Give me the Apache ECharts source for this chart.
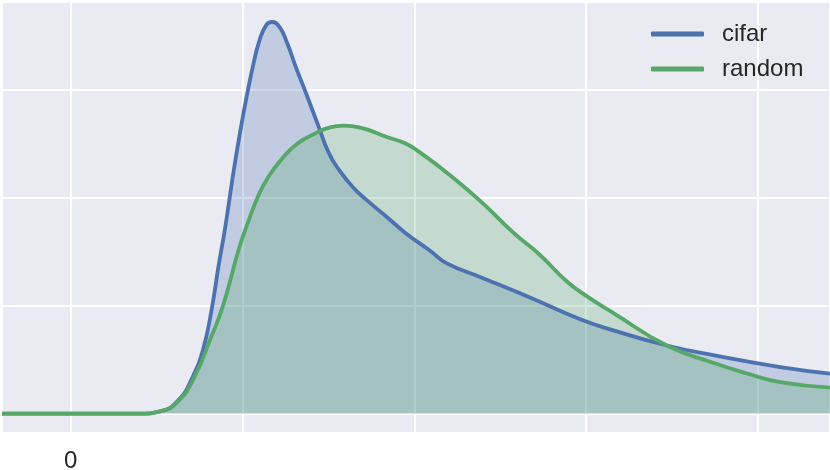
<!DOCTYPE html>
<html>
<head>
<meta charset="utf-8">
<script src="https://cdn.jsdelivr.net/npm/echarts@6/dist/echarts.min.js"></script>
<style>
  html, body { margin: 0; padding: 0; background: #fff; }
  #chart { width: 830px; height: 470px; }
</style>
</head>
<body>
<div id="chart"></div>
<script>
// density curves (x, y in grid units)
var cifarX = [-0.40, 0.17, 0.40, 0.52, 0.63, 0.71, 0.77, 0.82, 0.86, 0.90, 0.95, 0.99, 1.02, 1.06, 1.10, 1.14, 1.17, 1.215, 1.26, 1.31, 1.37, 1.44, 1.50, 1.56, 1.64, 1.72, 1.84, 1.95, 2.09, 2.19, 2.39, 2.68, 2.97, 3.16, 3.47, 3.74, 4.13, 4.42];
var cifarY = [0, 0, 0, 0.02, 0.13, 0.34, 0.59, 0.96, 1.36, 1.73, 2.26, 2.64, 2.90, 3.21, 3.46, 3.60, 3.625, 3.58, 3.43, 3.21, 2.965, 2.67, 2.42, 2.26, 2.10, 1.98, 1.82, 1.67, 1.51, 1.39, 1.26, 1.07, 0.87, 0.77, 0.63, 0.54, 0.43, 0.37];

var randomX = [-0.40, 0.17, 0.40, 0.52, 0.63, 0.73, 0.81, 0.885, 0.98, 1.03, 1.09, 1.15, 1.23, 1.32, 1.42, 1.51, 1.59, 1.68, 1.84, 1.95, 2.03, 2.19, 2.39, 2.58, 2.73, 2.89, 3.01, 3.16, 3.47, 3.74, 3.94, 4.13, 4.42];
var randomY = [0, 0, 0, 0.02, 0.12, 0.37, 0.68, 0.99, 1.53, 1.76, 2.01, 2.19, 2.36, 2.50, 2.59, 2.65, 2.665, 2.65, 2.56, 2.50, 2.42, 2.23, 1.96, 1.67, 1.47, 1.22, 1.08, 0.93, 0.63, 0.47, 0.37, 0.29, 0.24];

var seriesNames = ["cifar", "random"];
var seriesColors = ["#4C72B0", "#55A868"];

function pairs(xs, ys) {
  return xs.map(function (x, i) { return [x, ys[i]]; });
}

var chart = echarts.init(document.getElementById("chart"));
var option = {
  animation: false,
  color: seriesColors,
  textStyle: { fontFamily: "Liberation Sans, Arial, sans-serif" },
  grid: {
    left: 2, top: 2, right: 0, bottom: 37,
    outerBoundsMode: "none",
    show: true,
    backgroundColor: "#EAEAF2",
    borderWidth: 0
  },
  legend: {
    orient: "vertical",
    left: 646,
    top: 17,
    itemWidth: 53,
    itemHeight: 5,
    itemGap: 11,
    icon: "roundRect",
    data: seriesNames,
    textStyle: {
      fontSize: 24,
      color: "#262626",
      padding: [0, 0, 0, 13]
    }
  },
  xAxis: {
    type: "value",
    min: -0.4,
    max: 4.42,
    splitNumber: 5,
    axisLine: { show: false },
    axisTick: { show: false },
    axisLabel: {
      margin: 16,
      fontSize: 24,
      color: "#262626",
      formatter: function (v) { return Math.abs(v) < 1e-9 ? "0" : ""; }
    },
    splitLine: { lineStyle: { color: "#ffffff", width: 2 } }
  },
  yAxis: {
    type: "value",
    min: -0.18,
    max: 3.81,
    splitNumber: 4,
    axisLine: { show: false },
    axisTick: { show: false },
    axisLabel: { show: false },
    splitLine: { lineStyle: { color: "#ffffff", width: 2 } }
  },
  series: [
    {
      name: seriesNames[0],
      type: "line",
      smooth: 0.5,
      showSymbol: false,
      lineStyle: { width: 3.8, color: seriesColors[0] },
      itemStyle: { color: seriesColors[0] },
      areaStyle: { color: seriesColors[0], opacity: 0.26 },
      data: pairs(cifarX, cifarY)
    },
    {
      name: seriesNames[1],
      type: "line",
      smooth: 0.5,
      showSymbol: false,
      lineStyle: { width: 3.8, color: seriesColors[1] },
      itemStyle: { color: seriesColors[1] },
      areaStyle: { color: seriesColors[1], opacity: 0.25 },
      data: pairs(randomX, randomY)
    }
  ]
};
option && chart.setOption(option);
</script>
</body>
</html>
